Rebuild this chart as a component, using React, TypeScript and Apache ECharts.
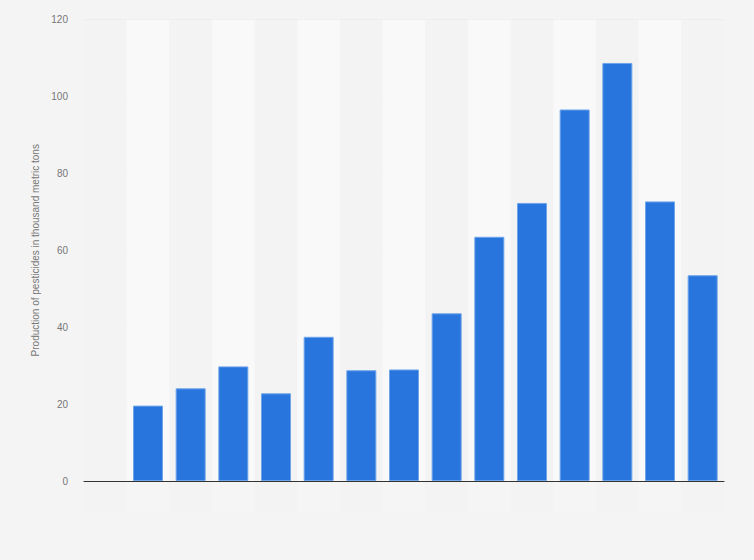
import React, { useEffect, useRef } from "react";
import * as echarts from "echarts";

const categories = ["", "2005", "2006", "2007", "2008", "2009", "2010", "2011", "2012", "2013", "2014", "2015", "2016", "2017", "2018"];
const values: (number | null)[] = [null, 19.6, 24.1, 29.8, 22.8, 37.5, 28.8, 29.0, 43.6, 63.5, 72.3, 96.6, 108.7, 72.7, 53.5];
const yTicks = [0, 20, 40, 60, 80, 100, 120];
const yAxisTitle = "Production of pesticides in thousand metric tons";

export default function App() {
  const ref = useRef<HTMLDivElement>(null);
  useEffect(() => {
    document.body.style.margin = "0";
    const chart = echarts.init(ref.current!, null, { renderer: "svg" });
    chart.setOption({
      animation: false,
      backgroundColor: "#f4f4f4",
      grid: [
        { left: 84, right: 30, top: 19.5, bottom: 79, containLabel: false },
        { left: 84, right: 30, top: 481, height: 31, containLabel: false },
      ],
      xAxis: [
        {
          type: "category",
          gridIndex: 0,
          data: categories,
          axisLine: { show: true, lineStyle: { color: "#333", width: 1 } },
          axisTick: { show: false },
          axisLabel: { show: false },
          splitArea: { show: true, areaStyle: { color: ["#f3f3f3", "#f9f9f9"] } },
        },
        {
          type: "category",
          gridIndex: 1,
          data: categories,
          axisLine: { show: false },
          axisTick: { show: false },
          axisLabel: { show: false },
          splitArea: { show: true, areaStyle: { color: ["#f3f3f3", "#f5f5f5"] } },
        },
      ],
      yAxis: [
        {
          type: "value",
          gridIndex: 0,
          min: 0,
          max: yTicks[yTicks.length - 1],
          interval: 20,
          name: yAxisTitle,
          nameLocation: "middle",
          nameRotate: 90,
          nameGap: 41,
          nameTextStyle: { color: "#777", fontSize: 10, fontFamily: "Liberation Sans, Arial, sans-serif" },
          axisLine: { show: false },
          axisTick: { show: false },
          axisLabel: { color: "#777", fontSize: 10, margin: 16, fontFamily: "Liberation Sans, Arial, sans-serif" },
          splitLine: { show: true, lineStyle: { color: "#d8d8d8", type: [1, 1], width: 1 } },
        },
        {
          type: "value",
          gridIndex: 1,
          show: false,
        },
      ],
      series: [
        {
          type: "bar",
          xAxisIndex: 0,
          yAxisIndex: 0,
          data: values,
          barWidth: 30,
          itemStyle: { color: "#2876dd", borderColor: "#6ea4ea", borderWidth: 1 },
        },
      ],
    });
    return () => chart.dispose();
  }, []);
  return <div ref={ref} style={{ width: 754, height: 560 }} />;
}
